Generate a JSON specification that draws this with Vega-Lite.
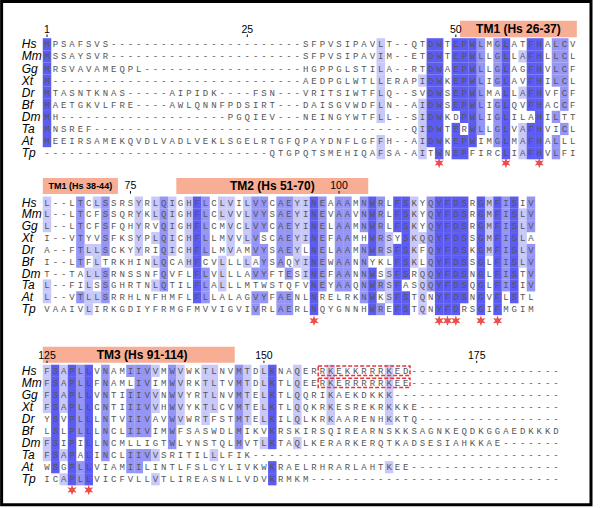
{
"$schema":"https://vega.github.io/schema/vega-lite/v6.json",
"padding":0,
"background":"white",
"spacing":0,
"bounds":"flush",
"config":{"view":{"stroke":null}},
"datasets":{
"seq":[
{"b":1,"r":0,"n":"Hs","q":["M","P","S","A","F","S","V","S","-","-","-","-","-","-","-","-","-","-","-","-","-","-","-","-","-","-","-","-","-","-","-","S","F","P","V","S","I","P","A","V","L","T","-","-","Q","T","D","W","T","E","P","W","L","M","G","L","A","T","F","H","A","L","C","V"],"l":[3,0,0,0,0,0,0,0,0,0,0,0,0,0,0,0,0,0,0,0,0,0,0,0,0,0,0,0,0,0,0,0,0,0,0,0,0,0,0,0,1,0,0,0,0,0,3,3,0,3,3,3,2,0,2,3,0,0,3,3,0,2,2,0]},
{"b":1,"r":1,"n":"Mm","q":["M","S","S","A","Y","S","V","R","-","-","-","-","-","-","-","-","-","-","-","-","-","-","-","-","-","-","-","-","-","-","-","S","F","P","V","S","I","P","A","V","I","M","-","-","E","T","D","W","T","E","P","W","L","L","G","L","L","A","F","H","L","L","C","L"],"l":[3,0,0,0,0,0,0,0,0,0,0,0,0,0,0,0,0,0,0,0,0,0,0,0,0,0,0,0,0,0,0,0,0,0,0,0,0,0,0,0,1,0,0,0,0,0,3,3,0,3,3,3,2,0,2,3,0,1,3,3,0,2,2,0]},
{"b":1,"r":2,"n":"Gg","q":["M","R","S","V","A","V","A","M","E","Q","P","L","-","-","-","-","-","-","-","-","-","-","-","-","-","-","-","-","-","-","-","H","G","P","P","G","L","S","T","I","L","A","-","-","R","T","D","W","A","E","P","W","L","L","G","L","A","G","F","H","V","L","C","F"],"l":[3,0,0,0,0,0,0,0,0,0,0,0,0,0,0,0,0,0,0,0,0,0,0,0,0,0,0,0,0,0,0,0,0,0,0,0,0,0,0,0,1,0,0,0,0,0,3,3,0,3,3,3,2,0,2,3,0,0,3,3,0,2,2,0]},
{"b":1,"r":3,"n":"Xt","q":["M","-","-","-","-","-","-","-","-","-","-","-","-","-","-","-","-","-","-","-","-","-","-","-","-","-","-","-","-","-","-","A","E","D","P","G","L","W","T","L","L","E","R","A","P","I","D","W","K","E","P","W","L","I","G","L","A","V","F","H","I","L","C","L"],"l":[3,0,0,0,0,0,0,0,0,0,0,0,0,0,0,0,0,0,0,0,0,0,0,0,0,0,0,0,0,0,0,0,0,0,0,0,0,0,0,0,1,0,0,0,0,1,3,3,0,3,3,3,2,0,2,3,0,0,3,3,0,2,2,0]},
{"b":1,"r":4,"n":"Dr","q":["M","T","A","S","N","T","K","N","A","S","-","-","-","-","-","A","I","P","I","D","K","-","-","-","-","F","S","N","-","-","-","V","R","I","T","S","I","W","T","F","L","Q","-","-","S","V","D","W","S","E","P","W","L","M","A","L","L","A","F","H","V","F","C","F"],"l":[3,0,0,0,0,0,0,0,0,0,0,0,0,0,0,0,0,0,0,0,0,0,0,0,0,0,0,0,0,0,0,0,0,0,0,0,0,0,0,0,1,0,0,0,0,0,3,3,0,3,3,3,2,0,0,3,0,1,3,3,0,0,2,0]},
{"b":1,"r":5,"n":"Bf","q":["M","A","E","T","G","K","V","L","F","R","E","-","-","-","-","A","W","L","Q","N","N","F","P","D","S","I","R","T","-","-","-","D","A","I","S","G","V","W","D","F","L","N","-","-","A","I","D","W","S","E","P","W","L","I","G","L","Q","V","F","H","A","C","C","F"],"l":[3,0,0,0,0,0,0,0,0,0,0,0,0,0,0,0,0,0,0,0,0,0,0,0,0,0,0,0,0,0,0,0,0,0,0,0,0,0,0,0,1,0,0,0,0,1,3,3,0,3,3,3,2,0,2,3,0,0,3,3,0,0,2,0]},
{"b":1,"r":6,"n":"Dm","q":["M","H","-","-","-","-","-","-","-","-","-","-","-","-","-","-","-","-","-","-","-","-","P","G","Q","I","E","V","-","-","-","N","E","I","N","G","Y","W","T","F","L","L","-","-","S","I","D","W","K","D","P","W","L","I","G","L","I","L","A","H","I","L","T","T"],"l":[3,0,0,0,0,0,0,0,0,0,0,0,0,0,0,0,0,0,0,0,0,0,0,0,0,0,0,0,0,0,0,0,0,0,0,0,0,0,0,0,1,0,0,0,0,1,3,3,0,0,3,3,2,0,2,3,0,0,0,3,0,2,0,0]},
{"b":1,"r":7,"n":"Ta","q":["M","N","S","R","E","F","-","-","-","-","-","-","-","-","-","-","-","-","-","-","-","-","-","-","-","-","-","-","-","-","-","-","-","-","-","-","-","-","-","-","-","-","-","-","Q","I","D","W","T","E","R","W","L","L","G","L","V","A","F","H","V","I","C","L"],"l":[3,0,0,0,0,0,0,0,0,0,0,0,0,0,0,0,0,0,0,0,0,0,0,0,0,0,0,0,0,0,0,0,0,0,0,0,0,0,0,0,0,0,0,0,0,1,3,3,0,3,0,3,2,0,2,3,0,1,3,3,0,0,2,0]},
{"b":1,"r":8,"n":"At","q":["M","E","E","I","R","S","A","M","E","K","Q","V","D","L","V","A","D","L","V","E","K","L","S","G","E","L","R","T","G","F","Q","P","A","Y","D","N","F","L","G","F","F","H","-","-","A","I","D","W","K","E","P","W","I","M","G","L","M","A","F","H","A","L","L","L"],"l":[3,0,0,0,0,0,0,0,0,0,0,0,0,0,0,0,0,0,0,0,0,0,0,0,0,0,0,0,0,0,0,0,0,0,0,0,0,0,0,0,1,0,0,0,0,1,3,3,0,3,3,3,0,0,2,3,0,1,3,3,0,2,0,0]},
{"b":1,"r":9,"n":"Tp","q":["-","-","-","-","-","-","-","-","-","-","-","-","-","-","-","-","-","-","-","-","-","-","-","-","-","-","-","Q","T","G","P","Q","T","S","M","E","H","I","Q","A","F","S","A","-","A","I","T","W","N","E","P","F","I","R","C","L","I","A","F","H","V","L","F","I"],"l":[0,0,0,0,0,0,0,0,0,0,0,0,0,0,0,0,0,0,0,0,0,0,0,0,0,0,0,0,0,0,0,0,0,0,0,0,0,0,0,0,1,0,0,0,0,1,0,3,0,3,3,0,0,0,0,3,0,1,3,3,0,2,0,0]},
{"b":2,"r":0,"n":"Hs","q":["L","-","-","L","T","C","L","S","S","R","S","Y","R","L","Q","I","G","H","F","L","C","L","V","I","L","V","Y","C","A","E","Y","I","N","E","A","A","A","M","N","W","R","L","F","S","K","Y","Q","Y","F","D","S","R","G","M","F","I","S","I","V"],"l":[1,0,0,0,2,0,1,2,0,0,0,1,0,1,2,1,0,1,3,2,0,1,1,0,1,2,2,0,2,2,1,1,3,2,0,2,2,0,2,3,2,0,3,3,1,0,2,3,3,3,3,0,3,1,3,2,3,0,2]},
{"b":2,"r":1,"n":"Mm","q":["L","-","-","L","T","C","F","S","S","Q","R","Y","K","L","Q","I","G","H","F","L","C","L","V","V","L","V","Y","S","A","E","Y","I","N","E","V","A","A","V","N","W","R","L","F","S","K","Y","Q","Y","F","D","S","R","G","M","F","I","S","L","V"],"l":[1,0,0,0,2,0,0,2,0,0,0,1,0,1,2,1,0,1,3,2,0,1,1,0,1,2,2,0,2,2,1,1,3,2,0,2,2,0,2,3,2,0,3,3,1,0,2,3,3,3,3,0,3,1,3,2,3,1,2]},
{"b":2,"r":2,"n":"Gg","q":["L","-","-","L","T","C","F","S","F","Q","H","Y","R","V","Q","I","G","H","F","L","C","M","V","C","L","V","Y","C","A","E","Y","I","N","E","L","A","A","M","N","W","R","L","F","S","K","Y","Q","Y","F","D","S","R","G","M","F","I","S","L","V"],"l":[1,0,0,0,2,0,0,2,0,0,0,1,0,0,2,1,0,1,3,2,0,0,1,0,1,2,2,0,2,2,1,1,3,2,0,2,2,0,2,3,2,0,3,3,1,0,2,3,3,3,3,0,3,1,3,2,3,1,2]},
{"b":2,"r":3,"n":"Xt","q":["I","-","-","V","T","Y","V","S","F","K","S","Y","P","L","Q","I","C","H","F","L","L","M","V","V","L","V","S","C","A","E","Y","I","N","E","F","A","A","M","H","W","R","S","Y","S","K","Q","Q","Y","F","D","S","S","G","M","F","I","S","L","A"],"l":[0,0,0,0,2,0,0,2,0,0,0,1,0,1,2,1,0,1,3,2,0,0,1,0,1,2,0,0,2,2,1,1,3,2,0,2,2,0,0,3,2,1,0,3,1,1,2,3,3,3,3,0,3,1,3,2,3,1,0]},
{"b":2,"r":4,"n":"Dr","q":["A","-","-","F","T","L","L","S","C","K","Y","Y","R","I","Q","I","C","H","F","L","L","M","V","A","M","V","Y","S","A","E","Y","L","N","E","L","A","A","M","N","W","R","S","F","S","K","F","Q","Y","F","D","S","K","G","M","F","I","S","L","V"],"l":[0,0,0,0,2,1,1,2,0,0,0,1,0,0,2,1,0,1,3,2,0,0,1,0,0,2,2,0,2,2,1,0,3,2,0,2,2,0,2,3,2,1,3,3,1,0,2,3,3,3,3,0,3,1,3,2,3,1,2]},
{"b":2,"r":5,"n":"Bf","q":["I","-","-","L","T","F","L","T","R","K","H","I","N","L","Q","C","A","H","F","C","V","L","L","L","L","A","Y","S","A","Q","Y","I","N","E","W","A","A","N","N","Y","K","L","F","S","K","L","Q","Y","F","D","S","S","G","L","F","I","S","L","V"],"l":[0,0,0,0,2,0,1,0,0,0,0,0,0,1,2,0,0,1,3,0,0,1,0,0,1,0,2,0,2,0,1,1,3,2,0,2,2,0,2,0,0,0,3,3,1,0,2,3,3,3,3,0,3,0,3,2,3,1,2]},
{"b":2,"r":6,"n":"Dm","q":["T","-","-","T","A","L","L","S","R","N","S","S","N","F","Q","V","F","L","F","L","V","L","L","L","A","V","Y","F","T","E","S","I","N","E","F","A","A","N","N","W","S","S","F","S","R","Q","Q","Y","F","D","S","N","G","L","F","I","S","T","V"],"l":[0,0,0,0,0,1,1,2,0,0,0,0,0,0,2,0,0,0,3,2,0,1,0,0,0,2,2,0,0,2,0,1,3,2,0,2,2,0,2,3,0,1,3,3,0,1,2,3,3,3,3,0,3,0,3,2,3,0,2]},
{"b":2,"r":7,"n":"Ta","q":["L","-","-","F","I","L","S","S","G","H","R","T","N","L","Q","T","I","L","F","L","A","L","L","L","M","T","W","S","T","Q","F","V","N","E","Y","A","A","Q","N","W","R","S","F","A","S","Q","Q","Y","F","D","S","Q","G","L","F","I","S","I","V"],"l":[1,0,0,0,0,1,0,2,0,0,0,0,0,1,2,0,0,0,3,2,0,1,0,0,0,0,0,0,0,0,0,0,3,2,0,2,2,0,2,3,2,1,3,0,0,1,2,3,3,3,3,0,3,0,3,2,3,0,2]},
{"b":2,"r":8,"n":"At","q":["L","-","-","V","T","L","L","S","R","R","H","L","N","F","H","M","F","L","F","L","L","A","L","A","G","V","Y","F","A","E","N","L","N","R","E","L","R","K","N","W","K","S","F","S","T","Q","N","Y","F","D","S","N","G","V","F","L","S","T","L"],"l":[1,0,0,0,2,1,1,2,0,0,0,0,0,0,0,0,0,0,3,2,0,0,0,0,0,2,2,0,2,2,0,0,3,0,0,0,0,0,2,3,0,1,3,3,0,1,0,3,3,3,3,0,3,0,3,0,3,0,0]},
{"b":2,"r":9,"n":"Tp","q":["V","A","A","I","V","L","I","R","K","G","D","I","Y","F","R","M","G","F","M","V","V","I","G","V","I","V","R","L","A","E","R","L","N","Q","Y","G","N","N","H","W","R","E","F","S","T","Q","N","Y","F","D","R","S","G","I","F","M","G","I","M"],"l":[0,0,0,0,0,1,0,0,0,0,0,0,0,0,0,0,0,0,0,0,0,0,0,0,0,2,0,0,2,2,0,0,3,0,0,0,0,0,0,3,2,0,3,3,0,1,0,3,3,3,0,0,3,0,3,0,0,0,0]},
{"b":3,"r":0,"n":"Hs","q":["F","S","A","P","L","L","V","N","A","M","I","I","V","V","M","W","V","W","K","T","L","N","V","M","T","D","L","K","N","A","Q","E","R","R","K","E","K","K","R","R","R","K","E","D","-","-","-","-","-","-","-","-","-","-","-","-","-","-","-","-","-","-"],"l":[1,3,1,3,2,3,0,2,0,0,2,2,2,1,0,2,1,0,0,1,1,0,0,2,1,0,1,3,0,0,1,0,0,0,1,0,0,0,0,0,0,1,0,0,0,0,0,0,0,0,0,0,0,0,0,0,0,0,0,0,0,0]},
{"b":3,"r":1,"n":"Mm","q":["F","S","A","P","L","L","F","N","A","M","L","I","V","I","M","W","V","R","K","T","L","T","V","M","T","D","L","K","T","L","Q","E","E","R","K","E","R","R","R","R","R","K","E","E","-","-","-","-","-","-","-","-","-","-","-","-","-","-","-","-","-","-"],"l":[1,3,1,3,2,3,0,2,0,0,0,2,2,0,0,2,1,0,0,1,1,0,0,2,1,0,1,3,0,0,1,0,0,0,1,0,0,0,0,0,0,1,0,0,0,0,0,0,0,0,0,0,0,0,0,0,0,0,0,0,0,0]},
{"b":3,"r":2,"n":"Gg","q":["F","S","A","P","L","L","V","N","T","I","I","I","V","V","N","W","V","Y","R","T","L","N","V","M","T","E","L","K","T","L","Q","Q","R","I","K","A","E","K","D","K","K","K","-","-","-","-","-","-","-","-","-","-","-","-","-","-","-","-","-","-","-","-"],"l":[1,3,1,3,2,3,0,2,0,0,2,2,2,1,0,2,1,0,0,1,1,0,0,2,1,0,1,3,0,0,1,0,0,0,1,0,0,0,0,0,0,1,0,0,0,0,0,0,0,0,0,0,0,0,0,0,0,0,0,0,0,0]},
{"b":3,"r":3,"n":"Xt","q":["F","S","A","P","L","L","C","N","T","I","I","I","V","V","H","W","V","Y","K","T","L","C","V","M","T","E","L","K","T","L","Q","Q","K","R","K","E","S","R","E","K","R","K","K","K","E","-","-","-","-","-","-","-","-","-","-","-","-","-","-","-","-","-"],"l":[1,3,1,3,2,3,0,2,0,0,2,2,2,1,0,2,1,0,0,1,1,0,0,2,1,0,1,3,0,0,1,0,0,0,1,0,0,0,0,0,0,1,0,0,0,0,0,0,0,0,0,0,0,0,0,0,0,0,0,0,0,0]},
{"b":3,"r":4,"n":"Dr","q":["Y","S","V","P","L","L","L","N","T","V","I","I","V","A","V","W","V","W","R","T","F","S","T","M","T","E","L","K","I","L","Q","L","K","R","K","A","A","R","E","N","H","K","K","T","Q","-","-","-","-","-","-","-","-","-","-","-","-","-","-","-","-","-"],"l":[0,3,0,3,2,3,0,2,0,0,2,2,2,0,0,2,1,0,0,1,0,0,0,2,1,0,1,3,0,0,1,0,0,0,1,0,0,0,0,0,0,1,0,0,0,0,0,0,0,0,0,0,0,0,0,0,0,0,0,0,0,0]},
{"b":3,"r":5,"n":"Bf","q":["L","S","L","P","L","L","L","N","C","L","I","I","V","I","M","W","F","S","A","S","W","D","L","M","I","K","V","K","R","S","K","I","R","S","Q","I","R","E","A","R","N","S","K","K","S","A","G","N","K","E","Q","D","K","G","G","A","E","D","K","K","K","D"],"l":[0,3,0,3,2,3,0,2,0,0,2,2,2,0,0,2,0,0,0,0,0,0,0,2,0,0,0,3,0,0,0,0,0,0,0,0,0,0,0,0,0,0,0,0,0,0,0,0,0,0,0,0,0,0,0,0,0,0,0,0,0,0]},
{"b":3,"r":6,"n":"Dm","q":["F","S","I","P","I","L","L","N","C","M","L","L","I","G","T","W","L","Y","N","S","T","Q","L","M","V","T","L","K","T","A","Q","L","K","E","R","A","R","K","E","R","Q","T","K","A","D","S","E","S","I","A","H","K","K","A","E","-","-","-","-","-","-","-"],"l":[1,3,0,3,0,3,0,2,0,0,0,0,0,0,0,2,0,0,0,0,0,0,0,2,0,0,1,3,0,0,1,0,0,0,0,0,0,0,0,0,0,0,0,0,0,0,0,0,0,0,0,0,0,0,0,0,0,0,0,0,0,0]},
{"b":3,"r":7,"n":"Ta","q":["F","S","A","P","A","L","I","N","C","L","I","I","V","V","S","R","I","T","I","L","L","L","F","I","K","-","-","-","-","-","-","-","-","-","-","-","-","-","-","-","-","-","-","-","-","-","-","-","-","-","-","-","-","-","-","-","-","-","-","-","-","-"],"l":[1,3,1,3,0,3,0,2,0,0,2,2,2,1,0,0,0,0,0,0,1,0,0,0,0,0,0,0,0,0,0,0,0,0,0,0,0,0,0,0,0,0,0,0,0,0,0,0,0,0,0,0,0,0,0,0,0,0,0,0,0,0]},
{"b":3,"r":8,"n":"At","q":["W","S","G","P","L","L","V","I","A","M","I","I","L","I","N","T","L","F","S","L","C","Y","L","I","V","K","W","K","R","A","E","L","R","H","R","A","R","L","A","H","T","K","E","E","-","-","-","-","-","-","-","-","-","-","-","-","-","-","-","-","-","-"],"l":[0,3,0,3,2,3,0,0,0,0,2,2,0,0,0,0,0,0,0,0,0,0,0,0,0,0,0,3,0,0,0,0,0,0,0,0,0,0,0,0,0,1,0,0,0,0,0,0,0,0,0,0,0,0,0,0,0,0,0,0,0,0]},
{"b":3,"r":9,"n":"Tp","q":["I","C","A","P","L","L","V","I","C","F","V","L","L","V","T","L","I","R","E","A","S","N","L","L","V","D","V","K","R","M","K","M","-","-","-","-","-","-","-","-","-","-","-","-","-","-","-","-","-","-","-","-","-","-","-","-","-","-","-","-","-","-"],"l":[0,0,1,3,2,3,0,0,0,0,0,0,0,1,0,0,0,0,0,0,0,0,0,0,0,0,0,3,0,0,0,0,0,0,0,0,0,0,0,0,0,0,0,0,0,0,0,0,0,0,0,0,0,0,0,0,0,0,0,0,0,0]}
],
"tm":[
{"b":1,"from":50.5,"to":64.5,"mid":57.5,"t":"TM1 (Hs 26-37)"},
{"b":2,"from":0.5,"to":9.5,"mid":5,"t":"TM1 (Hs 38-44)"},
{"b":2,"from":16.5,"to":39.5,"mid":28,"t":"TM2 (Hs 51-70)"},
{"b":3,"from":0.5,"to":23.5,"mid":12.4,"t":"TM3 (Hs 91-114)"}
],
"num":[
{"b":1,"c":1,"t":"1"},{"b":1,"c":25,"t":"25"},{"b":1,"c":50,"t":"50"},
{"b":2,"c":11,"t":"75"},{"b":2,"c":36,"t":"100"},
{"b":3,"c":1,"t":"125"},{"b":3,"c":27,"t":"150"},{"b":3,"c":52.5,"t":"175"}
],
"star":[
{"b":1,"c":48},{"b":1,"c":56},{"b":1,"c":60},
{"b":2,"c":33},{"b":2,"c":48},{"b":2,"c":49},{"b":2,"c":50},{"b":2,"c":53},{"b":2,"c":55},
{"b":3,"c":4},{"b":3,"c":6}
],
"box":[
{"b":3,"r":0,"from":33.5,"to":44.5},
{"b":3,"r":1,"from":33.5,"to":44.5}
]
},
"vconcat":[
{"width":600,"height":158,"layer":[
{"data":{"name":"seq"},"transform":[{"filter":"datum.b==1"},{"flatten":["q","l"]},{"window":[{"op":"row_number","as":"c"}],"groupby":["r"]},{"filter":"datum.l>0"}],
"mark":{"type":"rect","xOffset":-4.25,"x2Offset":4.25,"yOffset":-6.1,"y2Offset":6.1},
"encoding":{"x":{"field":"c","type":"quantitative","scale":{"domain":[-4.633,67.275],"nice":false,"zero":false},"axis":null},"x2":{"field":"c"},
"y":{"field":"r","type":"quantitative","scale":{"domain":[-3.6612,9.3967],"nice":false,"zero":false,"reverse":true},"axis":null},"y2":{"field":"r"},
"color":{"field":"l","type":"ordinal","scale":{"domain":[1,2,3],"range":["#c9c9f9","#9595f5","#5c5cf2"]},"legend":null}}},
{"data":{"name":"seq"},"transform":[{"filter":"datum.b==1"},{"flatten":["q","l"]},{"window":[{"op":"row_number","as":"c"}],"groupby":["r"]}],
"mark":{"type":"text","font":"Liberation Mono","fontSize":9,"color":"#555555","baseline":"middle","align":"center"},
"encoding":{"x":{"field":"c","type":"quantitative","scale":{"domain":[-4.633,67.275],"nice":false,"zero":false},"axis":null},
"y":{"field":"r","type":"quantitative","scale":{"domain":[-3.6612,9.3967],"nice":false,"zero":false,"reverse":true},"axis":null},"text":{"field":"q"}}},
{"data":{"name":"seq"},"transform":[{"filter":"datum.b==1"}],
"mark":{"type":"text","font":"Liberation Sans","fontStyle":"italic","fontSize":12,"color":"#000000","align":"left","baseline":"middle"},
"encoding":{"x":{"datum":-2.03,"type":"quantitative","scale":{"domain":[-4.633,67.275],"nice":false,"zero":false},"axis":null},
"y":{"field":"r","type":"quantitative","scale":{"domain":[-3.6612,9.3967],"nice":false,"zero":false,"reverse":true},"axis":null},"text":{"field":"n"}}},
{"data":{"name":"tm"},"transform":[{"filter":"datum.b==1"}],"mark":{"type":"rect","color":"#f7ae95"},
"encoding":{"x":{"field":"from","type":"quantitative","scale":{"domain":[-4.633,67.275],"nice":false,"zero":false},"axis":null},"x2":{"field":"to"},
"y":{"datum":-1.95,"type":"quantitative","scale":{"domain":[-3.6612,9.3967],"nice":false,"zero":false,"reverse":true},"axis":null},"y2":{"datum":-0.58}}},
{"data":{"name":"tm"},"transform":[{"filter":"datum.b==1"}],"mark":{"type":"text","font":"Liberation Sans","fontWeight":"bold","fontSize":12,"color":"#000000","baseline":"middle"},
"encoding":{"x":{"field":"mid","type":"quantitative","scale":{"domain":[-4.633,67.275],"nice":false,"zero":false},"axis":null},
"y":{"datum":-1.26,"type":"quantitative","scale":{"domain":[-3.6612,9.3967],"nice":false,"zero":false,"reverse":true},"axis":null},"text":{"field":"t"}}},
{"data":{"name":"num"},"transform":[{"filter":"datum.b==1"}],"mark":{"type":"text","font":"Liberation Sans","fontSize":10.5,"color":"#000000","baseline":"middle"},
"encoding":{"x":{"field":"c","type":"quantitative","scale":{"domain":[-4.633,67.275],"nice":false,"zero":false},"axis":null},
"y":{"datum":-1.18,"type":"quantitative","scale":{"domain":[-3.6612,9.3967],"nice":false,"zero":false,"reverse":true},"axis":null},"text":{"field":"t"}}},
{"data":{"name":"num"},"transform":[{"filter":"datum.b==1"}],"mark":{"type":"rule","color":"#000000","strokeWidth":1},
"encoding":{"x":{"field":"c","type":"quantitative","scale":{"domain":[-4.633,67.275],"nice":false,"zero":false},"axis":null},
"y":{"datum":-0.81,"type":"quantitative","scale":{"domain":[-3.6612,9.3967],"nice":false,"zero":false,"reverse":true},"axis":null},"y2":{"datum":-0.6}}},
{"data":{"name":"star"},"transform":[{"filter":"datum.b==1"}],"mark":{"type":"point","shape":"M0,-1L0.225,-0.39L0.866,-0.5L0.45,0L0.866,0.5L0.225,0.39L0,1L-0.225,0.39L-0.866,0.5L-0.45,0L-0.866,-0.5L-0.225,-0.39Z","filled":true,"color":"#ee4d4d","size":110,"opacity":1},
"encoding":{"x":{"field":"c","type":"quantitative","scale":{"domain":[-4.633,67.275],"nice":false,"zero":false},"axis":null},
"y":{"datum":9.81,"type":"quantitative","scale":{"domain":[-3.6612,9.3967],"nice":false,"zero":false,"reverse":true},"axis":null}}},
{"data":{"values":[{}]},"mark":{"type":"rect","filled":false,"color":"#000000","strokeWidth":3},
"encoding":{"x":{"datum":-4.44,"type":"quantitative","scale":{"domain":[-4.633,67.275],"nice":false,"zero":false},"axis":null},"x2":{"datum":66.197},
"y":{"datum":-3.528,"type":"quantitative","scale":{"domain":[-3.6612,9.3967],"nice":false,"zero":false,"reverse":true},"axis":null},"y2":{"datum":38.05}}}
]},
{"width":600,"height":168,"layer":[
{"data":{"name":"seq"},"transform":[{"filter":"datum.b==2"},{"flatten":["q","l"]},{"window":[{"op":"row_number","as":"c"}],"groupby":["r"]},{"filter":"datum.l>0"}],
"mark":{"type":"rect","xOffset":-4.25,"x2Offset":4.25,"yOffset":-6.0,"y2Offset":6.0},
"encoding":{"x":{"field":"c","type":"quantitative","scale":{"domain":[-4.633,67.275],"nice":false,"zero":false},"axis":null},"x2":{"field":"c"},
"y":{"field":"r","type":"quantitative","scale":{"domain":[-3.7553,10.4219],"nice":false,"zero":false,"reverse":true},"axis":null},"y2":{"field":"r"},
"color":{"field":"l","type":"ordinal","scale":{"domain":[1,2,3],"range":["#c9c9f9","#9595f5","#5c5cf2"]},"legend":null}}},
{"data":{"name":"seq"},"transform":[{"filter":"datum.b==2"},{"flatten":["q","l"]},{"window":[{"op":"row_number","as":"c"}],"groupby":["r"]}],
"mark":{"type":"text","font":"Liberation Mono","fontSize":9,"color":"#555555","baseline":"middle","align":"center"},
"encoding":{"x":{"field":"c","type":"quantitative","scale":{"domain":[-4.633,67.275],"nice":false,"zero":false},"axis":null},
"y":{"field":"r","type":"quantitative","scale":{"domain":[-3.7553,10.4219],"nice":false,"zero":false,"reverse":true},"axis":null},"text":{"field":"q"}}},
{"data":{"name":"seq"},"transform":[{"filter":"datum.b==2"}],
"mark":{"type":"text","font":"Liberation Sans","fontStyle":"italic","fontSize":12,"color":"#000000","align":"left","baseline":"middle"},
"encoding":{"x":{"datum":-2.03,"type":"quantitative","scale":{"domain":[-4.633,67.275],"nice":false,"zero":false},"axis":null},
"y":{"field":"r","type":"quantitative","scale":{"domain":[-3.7553,10.4219],"nice":false,"zero":false,"reverse":true},"axis":null},"text":{"field":"n"}}},
{"data":{"name":"tm"},"transform":[{"filter":"datum.b==2"}],"mark":{"type":"rect","color":"#f7ae95"},
"encoding":{"x":{"field":"from","type":"quantitative","scale":{"domain":[-4.633,67.275],"nice":false,"zero":false},"axis":null},"x2":{"field":"to"},
"y":{"datum":-2.068,"type":"quantitative","scale":{"domain":[-3.7553,10.4219],"nice":false,"zero":false,"reverse":true},"axis":null},"y2":{"datum":-0.717}}},
{"data":{"name":"tm"},"transform":[{"filter":"datum.b==2 && datum.from<1"}],"mark":{"type":"text","font":"Liberation Sans","fontWeight":"bold","fontSize":9,"color":"#000000","baseline":"middle"},
"encoding":{"x":{"field":"mid","type":"quantitative","scale":{"domain":[-4.633,67.275],"nice":false,"zero":false},"axis":null},
"y":{"datum":-1.392,"type":"quantitative","scale":{"domain":[-3.7553,10.4219],"nice":false,"zero":false,"reverse":true},"axis":null},"text":{"field":"t"}}},
{"data":{"name":"tm"},"transform":[{"filter":"datum.b==2 && datum.from>1"}],"mark":{"type":"text","font":"Liberation Sans","fontWeight":"bold","fontSize":12,"color":"#000000","baseline":"middle"},
"encoding":{"x":{"field":"mid","type":"quantitative","scale":{"domain":[-4.633,67.275],"nice":false,"zero":false},"axis":null},
"y":{"datum":-1.392,"type":"quantitative","scale":{"domain":[-3.7553,10.4219],"nice":false,"zero":false,"reverse":true},"axis":null},"text":{"field":"t"}}},
{"data":{"name":"num"},"transform":[{"filter":"datum.b==2"}],"mark":{"type":"text","font":"Liberation Sans","fontSize":10.5,"color":"#000000","baseline":"middle"},
"encoding":{"x":{"field":"c","type":"quantitative","scale":{"domain":[-4.633,67.275],"nice":false,"zero":false},"axis":null},
"y":{"datum":-1.418,"type":"quantitative","scale":{"domain":[-3.7553,10.4219],"nice":false,"zero":false,"reverse":true},"axis":null},"text":{"field":"t"}}},
{"data":{"name":"num"},"transform":[{"filter":"datum.b==2"}],"mark":{"type":"rule","color":"#000000","strokeWidth":1},
"encoding":{"x":{"field":"c","type":"quantitative","scale":{"domain":[-4.633,67.275],"nice":false,"zero":false},"axis":null},
"y":{"datum":-0.97,"type":"quantitative","scale":{"domain":[-3.7553,10.4219],"nice":false,"zero":false,"reverse":true},"axis":null},"y2":{"datum":-0.75}}},
{"data":{"name":"star"},"transform":[{"filter":"datum.b==2"}],"mark":{"type":"point","shape":"M0,-1L0.225,-0.39L0.866,-0.5L0.45,0L0.866,0.5L0.225,0.39L0,1L-0.225,0.39L-0.866,0.5L-0.45,0L-0.866,-0.5L-0.225,-0.39Z","filled":true,"color":"#ee4d4d","size":110,"opacity":1},
"encoding":{"x":{"field":"c","type":"quantitative","scale":{"domain":[-4.633,67.275],"nice":false,"zero":false},"axis":null},
"y":{"datum":9.975,"type":"quantitative","scale":{"domain":[-3.7553,10.4219],"nice":false,"zero":false,"reverse":true},"axis":null}}}
]},
{"width":600,"height":182,"layer":[
{"data":{"name":"seq"},"transform":[{"filter":"datum.b==3"},{"flatten":["q","l"]},{"window":[{"op":"row_number","as":"c"}],"groupby":["r"]},{"filter":"datum.l>0"}],
"mark":{"type":"rect","xOffset":-4.25,"x2Offset":4.25,"yOffset":-6.1,"y2Offset":6.1},
"encoding":{"x":{"field":"c","type":"quantitative","scale":{"domain":[-4.633,67.275],"nice":false,"zero":false},"axis":null},"x2":{"field":"c"},
"y":{"field":"r","type":"quantitative","scale":{"domain":[-3.7178,11.3859],"nice":false,"zero":false,"reverse":true},"axis":null},"y2":{"field":"r"},
"color":{"field":"l","type":"ordinal","scale":{"domain":[1,2,3],"range":["#c9c9f9","#9595f5","#5c5cf2"]},"legend":null}}},
{"data":{"name":"seq"},"transform":[{"filter":"datum.b==3"},{"flatten":["q","l"]},{"window":[{"op":"row_number","as":"c"}],"groupby":["r"]}],
"mark":{"type":"text","font":"Liberation Mono","fontSize":9,"color":"#555555","baseline":"middle","align":"center"},
"encoding":{"x":{"field":"c","type":"quantitative","scale":{"domain":[-4.633,67.275],"nice":false,"zero":false},"axis":null},
"y":{"field":"r","type":"quantitative","scale":{"domain":[-3.7178,11.3859],"nice":false,"zero":false,"reverse":true},"axis":null},"text":{"field":"q"}}},
{"data":{"name":"seq"},"transform":[{"filter":"datum.b==3"}],
"mark":{"type":"text","font":"Liberation Sans","fontStyle":"italic","fontSize":12,"color":"#000000","align":"left","baseline":"middle"},
"encoding":{"x":{"datum":-2.03,"type":"quantitative","scale":{"domain":[-4.633,67.275],"nice":false,"zero":false},"axis":null},
"y":{"field":"r","type":"quantitative","scale":{"domain":[-3.7178,11.3859],"nice":false,"zero":false,"reverse":true},"axis":null},"text":{"field":"n"}}},
{"data":{"name":"tm"},"transform":[{"filter":"datum.b==3"}],"mark":{"type":"rect","color":"#f7ae95"},
"encoding":{"x":{"field":"from","type":"quantitative","scale":{"domain":[-4.633,67.275],"nice":false,"zero":false},"axis":null},"x2":{"field":"to"},
"y":{"datum":-2.0,"type":"quantitative","scale":{"domain":[-3.7178,11.3859],"nice":false,"zero":false,"reverse":true},"axis":null},"y2":{"datum":-0.672}}},
{"data":{"name":"tm"},"transform":[{"filter":"datum.b==3"}],"mark":{"type":"text","font":"Liberation Sans","fontWeight":"bold","fontSize":12,"color":"#000000","baseline":"middle"},
"encoding":{"x":{"field":"mid","type":"quantitative","scale":{"domain":[-4.633,67.275],"nice":false,"zero":false},"axis":null},
"y":{"datum":-1.336,"type":"quantitative","scale":{"domain":[-3.7178,11.3859],"nice":false,"zero":false,"reverse":true},"axis":null},"text":{"field":"t"}}},
{"data":{"name":"num"},"transform":[{"filter":"datum.b==3"}],"mark":{"type":"text","font":"Liberation Sans","fontSize":10.5,"color":"#000000","baseline":"middle"},
"encoding":{"x":{"field":"c","type":"quantitative","scale":{"domain":[-4.633,67.275],"nice":false,"zero":false},"axis":null},
"y":{"datum":-1.2,"type":"quantitative","scale":{"domain":[-3.7178,11.3859],"nice":false,"zero":false,"reverse":true},"axis":null},"text":{"field":"t"}}},
{"data":{"name":"num"},"transform":[{"filter":"datum.b==3"}],"mark":{"type":"rule","color":"#000000","strokeWidth":1},
"encoding":{"x":{"field":"c","type":"quantitative","scale":{"domain":[-4.633,67.275],"nice":false,"zero":false},"axis":null},
"y":{"datum":-0.83,"type":"quantitative","scale":{"domain":[-3.7178,11.3859],"nice":false,"zero":false,"reverse":true},"axis":null},"y2":{"datum":-0.65}}},
{"data":{"name":"star"},"transform":[{"filter":"datum.b==3"}],"mark":{"type":"point","shape":"M0,-1L0.225,-0.39L0.866,-0.5L0.45,0L0.866,0.5L0.225,0.39L0,1L-0.225,0.39L-0.866,0.5L-0.45,0L-0.866,-0.5L-0.225,-0.39Z","filled":true,"color":"#ee4d4d","size":110,"opacity":1},
"encoding":{"x":{"field":"c","type":"quantitative","scale":{"domain":[-4.633,67.275],"nice":false,"zero":false},"axis":null},
"y":{"datum":9.89,"type":"quantitative","scale":{"domain":[-3.7178,11.3859],"nice":false,"zero":false,"reverse":true},"axis":null}}},
{"data":{"name":"box"},"transform":[{"filter":"datum.b==3"}],"mark":{"type":"rect","filled":false,"color":"#e8333a","strokeWidth":1.5,"strokeDash":[4,2],"yOffset":-4.7,"y2Offset":4.7},
"encoding":{"x":{"field":"from","type":"quantitative","scale":{"domain":[-4.633,67.275],"nice":false,"zero":false},"axis":null},"x2":{"field":"to"},
"y":{"field":"r","type":"quantitative","scale":{"domain":[-3.7178,11.3859],"nice":false,"zero":false,"reverse":true},"axis":null},"y2":{"field":"r"}}}
]}
]
}
